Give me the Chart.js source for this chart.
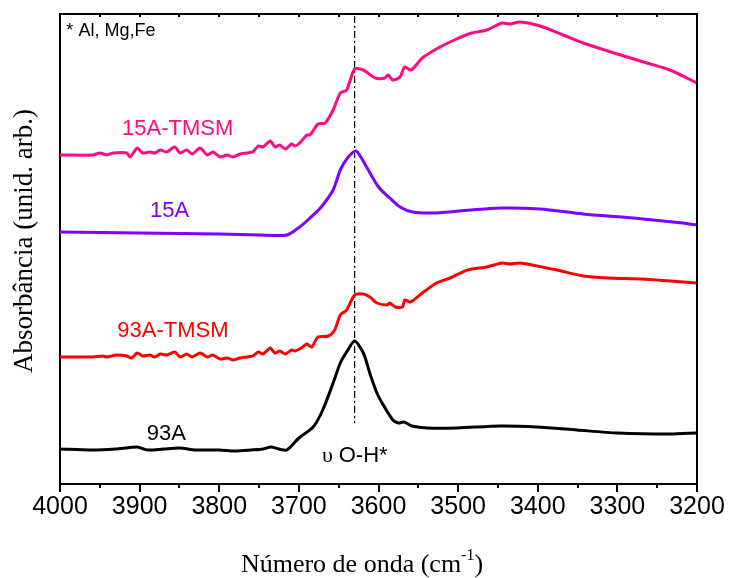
<!DOCTYPE html>
<html>
<head>
<meta charset="utf-8">
<script src="https://cdn.jsdelivr.net/npm/chart.js@4/dist/chart.umd.min.js"></script>
<style>
  html, body { margin: 0; padding: 0; background: #fff; }
  #box { width: 729px; height: 578px; }
</style>
</head>
<body>
<div id="box"><canvas id="grafico" width="729" height="578"></canvas></div>
<script>
// numero de onda (cm-1) e absorbancia (unid. arb.) de cada espectro
const wn93A = [4000, 3960, 3930, 3903, 3890, 3870, 3850, 3830, 3800, 3780, 3760, 3745, 3735, 3725, 3715, 3700, 3682, 3670, 3657, 3648, 3640, 3630, 3619, 3611, 3602, 3594, 3582, 3575, 3568, 3558, 3539, 3501, 3447, 3401, 3351, 3300, 3234, 3200]
const abs93A = [0.35, 0.34, 0.35, 0.37, 0.34, 0.35, 0.36, 0.34, 0.34, 0.33, 0.34, 0.35, 0.37, 0.35, 0.34, 0.46, 0.57, 0.74, 1.01, 1.21, 1.32, 1.43, 1.31, 1.11, 0.91, 0.79, 0.64, 0.61, 0.62, 0.58, 0.56, 0.56, 0.58, 0.57, 0.54, 0.51, 0.50, 0.51]

const wn93AT = [4000, 3959, 3946, 3941, 3929, 3916, 3910, 3903, 3896, 3887, 3881, 3874, 3866, 3856, 3849, 3841, 3834, 3824, 3815, 3808, 3799, 3790, 3783, 3774, 3765, 3758, 3751, 3745, 3736, 3730, 3724, 3717, 3709, 3705, 3697, 3690, 3684, 3676, 3663, 3655, 3648, 3640, 3630, 3619, 3611, 3602, 3589, 3586, 3579, 3570, 3567, 3560, 3545, 3527, 3510, 3488, 3464, 3445, 3435, 3422, 3401, 3376, 3343, 3313, 3268, 3234, 3200]
const abs93AT = [1.27, 1.27, 1.28, 1.27, 1.29, 1.28, 1.26, 1.31, 1.28, 1.29, 1.27, 1.30, 1.29, 1.32, 1.27, 1.30, 1.27, 1.31, 1.27, 1.29, 1.25, 1.26, 1.24, 1.26, 1.27, 1.28, 1.32, 1.30, 1.36, 1.31, 1.33, 1.30, 1.34, 1.33, 1.36, 1.40, 1.37, 1.47, 1.48, 1.54, 1.69, 1.74, 1.89, 1.90, 1.87, 1.81, 1.79, 1.81, 1.77, 1.77, 1.84, 1.82, 1.91, 2.01, 2.06, 2.14, 2.17, 2.21, 2.20, 2.21, 2.18, 2.14, 2.08, 2.06, 2.05, 2.03, 2.01]

const wn15A = [4000, 3900, 3800, 3750, 3715, 3699, 3686, 3673, 3657, 3648, 3638, 3628, 3615, 3600, 3586, 3573, 3557, 3532, 3498, 3447, 3397, 3343, 3280, 3218, 3200]
const abs15A = [2.52, 2.51, 2.50, 2.49, 2.49, 2.57, 2.66, 2.76, 2.94, 3.14, 3.27, 3.33, 3.17, 2.97, 2.86, 2.77, 2.72, 2.71, 2.73, 2.76, 2.75, 2.70, 2.66, 2.61, 2.59]

const wn15AT = [4000, 3959, 3950, 3941, 3933, 3916, 3912, 3903, 3896, 3887, 3881, 3874, 3866, 3856, 3849, 3841, 3834, 3824, 3815, 3808, 3799, 3790, 3783, 3774, 3765, 3758, 3751, 3745, 3736, 3730, 3724, 3717, 3709, 3705, 3699, 3690, 3686, 3676, 3667, 3657, 3648, 3640, 3630, 3619, 3604, 3592, 3588, 3582, 3573, 3567, 3559, 3545, 3525, 3502, 3483, 3464, 3445, 3435, 3422, 3397, 3368, 3343, 3300, 3263, 3234, 3200]
const abs15AT = [3.29, 3.29, 3.31, 3.29, 3.31, 3.31, 3.27, 3.36, 3.31, 3.32, 3.31, 3.34, 3.32, 3.37, 3.31, 3.34, 3.30, 3.36, 3.29, 3.32, 3.27, 3.29, 3.27, 3.30, 3.31, 3.32, 3.38, 3.37, 3.43, 3.37, 3.39, 3.35, 3.40, 3.38, 3.41, 3.49, 3.49, 3.60, 3.61, 3.74, 3.91, 3.94, 4.15, 4.14, 4.06, 4.06, 4.09, 4.04, 4.07, 4.17, 4.14, 4.26, 4.36, 4.45, 4.51, 4.54, 4.61, 4.60, 4.62, 4.58, 4.49, 4.41, 4.30, 4.21, 4.14, 4.01]

// linha tracejada do pico O-H
const picoWn = [3630, 3630]
const picoAbs = [4.68, 0.61]

const xTicks = [4000, 3900, 3800, 3700, 3600, 3500, 3400, 3300, 3200]

const nomes = ['93A', '93A-TMSM', '15A', '15A-TMSM']
const cores = ['#000000', '#ff0000', '#7f00ff', '#ff0a80']

function pontos(xs, ys) {
    return xs.map((x, i) => ({ x: x, y: ys[i] }))
}

const sans = '"Liberation Sans", Arial, sans-serif'
const serif = '"Liberation Serif", "Times New Roman", serif'

// textos dentro do grafico: [texto, x (cm-1), y, cor]
const rotulos = [
    ['15A-TMSM', 3922, 3.49, cores[3]],
    ['15A', 3887, 2.67, cores[2]],
    ['93A-TMSM', 3928, 1.47, cores[1]],
    ['93A', 3891, 0.44, cores[0]]
]

const moldura = {
    id: 'moldura',
    afterDraw(chart) {
        const c = chart.ctx
        const a = chart.chartArea
        const x = chart.scales.x
        const y = chart.scales.y
        c.save()
        c.strokeStyle = '#000'
        c.lineWidth = 2
        c.beginPath()
        c.moveTo(a.left - 1, a.top)
        c.lineTo(a.right, a.top)
        c.lineTo(a.right, a.bottom)
        c.stroke()
        // ticks menores e ticks de cima
        for (let v = 3200; v <= 4000; v += 50) {
            const px = Math.round(x.getPixelForValue(v))
            c.beginPath()
            if (v % 100 !== 0) {
                c.moveTo(px, a.bottom)
                c.lineTo(px, a.bottom + 4)
            }
            c.moveTo(px, a.top)
            c.lineTo(px, a.top + 3)
            c.stroke()
        }
        // rotulos das amostras
        c.font = '22px ' + sans
        c.textBaseline = 'alphabetic'
        c.textAlign = 'left'
        rotulos.map((r) => {
            c.fillStyle = r[3]
            c.fillText(r[0], x.getPixelForValue(r[1]), y.getPixelForValue(r[2]))
        })
        c.fillStyle = '#000'
        c.font = '18px ' + sans
        c.fillText('* Al, Mg,Fe', x.getPixelForValue(3992), y.getPixelForValue(4.48))
        const oy = y.getPixelForValue(0.22)
        c.font = '22px ' + serif
        c.fillText('υ', x.getPixelForValue(3671), oy)
        c.font = '22px ' + sans
        c.fillText('O-H*', x.getPixelForValue(3650), oy)
        // titulos dos eixos
        c.font = '26px ' + serif
        const t1 = 'Número de onda (cm'
        const w1 = c.measureText(t1).width
        c.font = '16px ' + serif
        const w2 = c.measureText('-1').width
        c.font = '26px ' + serif
        const w3 = c.measureText(')').width
        let tx = 362 - (w1 + w2 + w3) / 2
        c.fillText(t1, tx, 572)
        c.font = '16px ' + serif
        c.fillText('-1', tx + w1, 560)
        c.font = '26px ' + serif
        c.fillText(')', tx + w1 + w2, 572)
        c.translate(25, 241)
        c.rotate(-Math.PI / 2)
        c.textAlign = 'center'
        c.textBaseline = 'middle'
        c.font = '27px ' + serif
        c.fillText('Absorbância (unid. arb.)', 0, 0)
        c.restore()
    }
}

const series = [
    pontos(wn93A, abs93A),
    pontos(wn93AT, abs93AT),
    pontos(wn15A, abs15A),
    pontos(wn15AT, abs15AT)
]

const datasets = series.map((d, i) => ({
    label: nomes[i],
    data: d,
    borderColor: cores[i],
    borderWidth: 3,
    pointRadius: 0,
    tension: 0.25,
    fill: false
}))
datasets.push({
    label: 'pico',
    data: pontos(picoWn, picoAbs),
    borderColor: '#000',
    borderWidth: 1.2,
    borderDash: [7, 3, 2, 3],
    pointRadius: 0,
    fill: false
})

new Chart(document.getElementById('grafico'), {
    type: 'line',
    data: { datasets: datasets },
    options: {
        responsive: false,
        animation: false,
        devicePixelRatio: 1,
        layout: { padding: { top: 14, right: 32, left: 0, bottom: 0 } },
        plugins: { legend: { display: false }, tooltip: { enabled: false } },
        scales: {
            x: {
                type: 'linear',
                min: 3200,
                max: 4000,
                reverse: true,
                afterFit: (s) => { s.height = 94 },
                afterBuildTicks: (s) => { s.ticks = xTicks.map(v => ({ value: v })) },
                border: { display: true, color: '#000', width: 2 },
                grid: { display: true, drawOnChartArea: false, drawTicks: true, tickLength: 8, color: '#000', lineWidth: 2 },
                ticks: {
                    color: '#000',
                    padding: 0,
                    maxRotation: 0,
                    autoSkip: false,
                    font: { family: sans, size: 25 },
                    callback: (v) => String(v)
                }
            },
            y: {
                min: 0,
                max: 4.7,
                afterFit: (s) => { s.width = 60 },
                border: { display: true, color: '#000', width: 2 },
                grid: { display: false },
                ticks: { display: false }
            }
        }
    },
    plugins: [moldura]
})
</script>
</body>
</html>
